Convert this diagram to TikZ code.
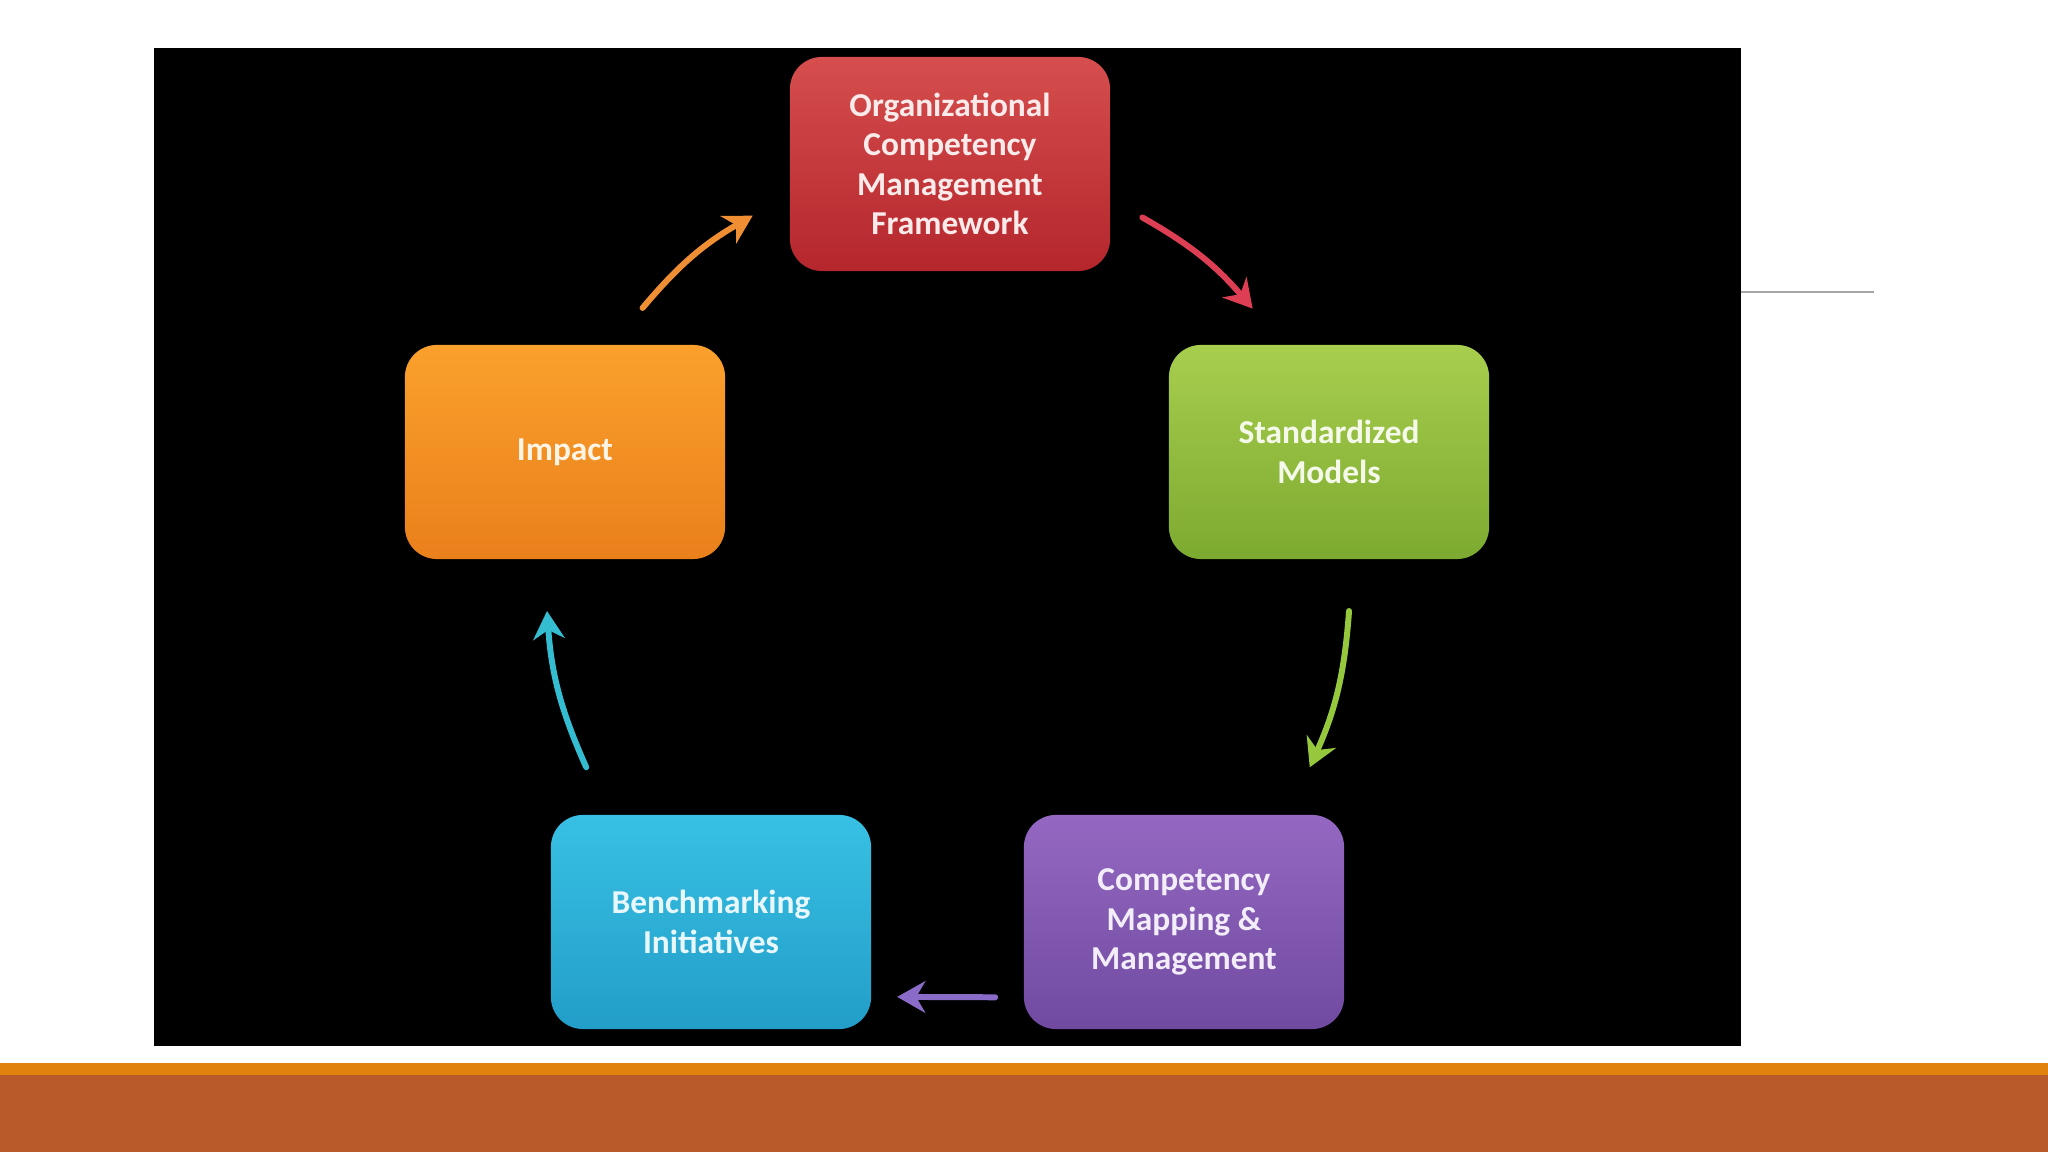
\documentclass[tikz,border=0pt]{standalone}
\usepackage{fontspec}
\setmainfont{Carlito}
\usetikzlibrary{arrows.meta,calc,positioning}

\definecolor{redTop}{RGB}{214,78,78}
\definecolor{redBot}{RGB}{180,38,44}
\definecolor{greenTop}{RGB}{168,206,78}
\definecolor{greenBot}{RGB}{124,170,48}
\definecolor{purpleTop}{RGB}{148,104,194}
\definecolor{purpleBot}{RGB}{112,74,160}
\definecolor{blueTop}{RGB}{56,192,228}
\definecolor{blueBot}{RGB}{34,158,200}
\definecolor{orangeTop}{RGB}{250,160,44}
\definecolor{orangeBot}{RGB}{234,128,28}
\definecolor{barOrange}{RGB}{225,130,15}
\definecolor{barRust}{RGB}{185,90,42}

\begin{document}
\begin{tikzpicture}[x=0.01cm, y=0.01cm, >={Stealth[length=8pt,width=9pt]}]
    % Styles
    \tikzstyle{stage} = [rectangle, rounded corners=0.32cm, minimum width=3.2cm, minimum height=2.14cm, inner sep=2pt, align=center, font=\fontsize{9.5}{11.2}\selectfont\bfseries]
    \tikzstyle{flow} = [->, line width=1.7pt, line cap=round, bend left=10]

    % Slide background
    \fill [white] (0,0) rectangle (2048,1152);
    \fill [black] (154,106) rectangle (1741,1104);
    \draw [black!35, line width=0.6pt] (1741,860) -- (1874,860);
    \fill [barRust] (0,0) rectangle (2048,77);
    \fill [barOrange] (0,77) rectangle (2048,89);

    % Nodes
    \coordinate (hub) at (948,569);
    \node [stage, top color=redTop, bottom color=redBot, text=white!88!redTop] (ocmf) at (950,988) {Organizational\\Competency\\Management\\Framework};
    \node [stage, top color=greenTop, bottom color=greenBot, text=white!88!greenTop] (models) at (1329,700) {Standardized\\Models};
    \node [stage, top color=purpleTop, bottom color=purpleBot, text=white!88!purpleTop] (mapping) at (1184,230) {Competency\\Mapping \&\\Management};
    \node [stage, top color=blueTop, bottom color=blueBot, text=white!88!blueTop] (bench) at (711,230) {Benchmarking\\Initiatives};
    \node [stage, top color=orangeTop, bottom color=orangeBot, text=white!88!orangeTop] (impact) at (565,700) {Impact};

    % Arrow ends on the cycle
    \coordinate (a1) at ($(hub)+(62:414)$);
    \coordinate (b1) at ($(hub)+(42:410)$);
    \coordinate (a2) at ($(hub)+(-4:402)$);
    \coordinate (b2) at ($(hub)+(-27:406)$);
    \coordinate (a3) at ($(hub)+(-83.5:417)$);
    \coordinate (b3) at ($(hub)+(-97:417)$);
    \coordinate (a4) at ($(hub)+(-153:406)$);
    \coordinate (b4) at ($(hub)+(-176:402)$);
    \coordinate (a5) at ($(hub)+(138:411)$);
    \coordinate (b5) at ($(hub)+(118:416)$);

    % Connections
    \draw [flow, color={rgb,255:red,222;green,62;blue,84}] (a1) to (b1);
    \draw [flow, color={rgb,255:red,150;green,200;blue,62}] (a2) to (b2);
    \draw [flow, color={rgb,255:red,138;green,108;blue,200}] (a3) -- (b3);
    \draw [flow, color={rgb,255:red,52;green,188;blue,208}] (a4) to (b4);
    \draw [flow, color={rgb,255:red,240;green,142;blue,52}] (a5) to (b5);
\end{tikzpicture}
\end{document}
